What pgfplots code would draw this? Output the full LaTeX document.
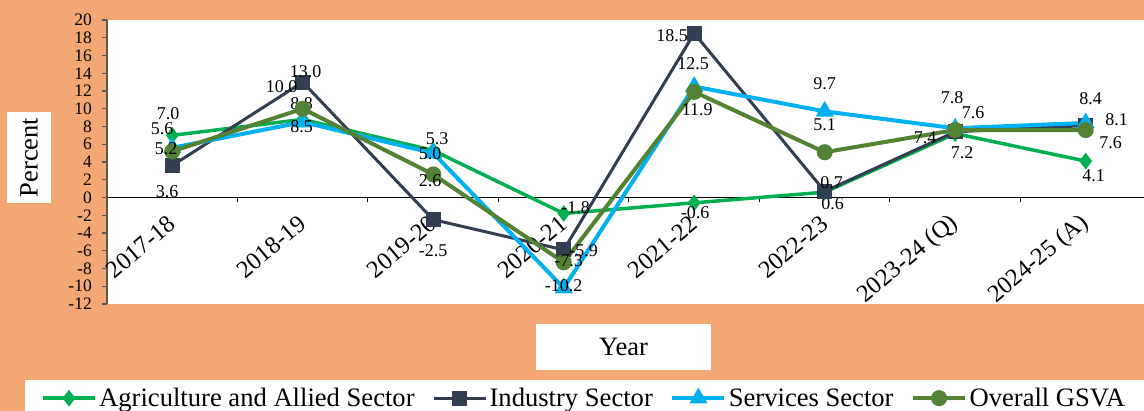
\documentclass[border=0pt]{standalone}
\usepackage{fontspec}
\setmainfont{Liberation Serif}
\usepackage{pgfplots}
\usepackage{pgfplotstable}
\pgfplotsset{compat=1.18}
\definecolor{bgor}{RGB}{242,167,116}
\definecolor{agri}{RGB}{0,176,80}
\definecolor{indus}{RGB}{51,63,80}
\definecolor{serv}{RGB}{0,176,240}
\definecolor{overall}{RGB}{84,130,53}
\definecolor{axgray}{RGB}{89,89,89}

\pgfplotstableread{
x y dx dy l
0 7.0 -4 22 7.0
1 8.8 -1 16 8.8
2 5.3 4 12 5.3
3 -1.8 12 6 -1.8
4 -0.6 1 -10 -0.6
5 0.6 8 -11 0.6
6 7.2 7 -19 7.2
7 4.1 8 -15 4.1
}\agri
\pgfplotstableread{
x y dx dy l
0 3.6 -5 -26 3.6
1 13.0 3 10 13.0
2 -2.5 0 -31 -2.5
3 -5.9 20 -1 -5.9
4 18.5 -22 -2 18.5
5 0.7 7 9 0.7
6 7.4 -30 -6 7.4
7 8.1 31 6 8.1
}\indus
\pgfplotstableread{
x y dx dy l
0 5.6 -10 19 5.6
1 8.5 -1 -5 8.5
2 5.0 -3 -1 5.0
3 -10.2 0 2 -10.2
4 12.5 -1 23 12.5
5 9.7 0 28 9.7
6 7.8 -3 31 7.8
7 8.4 5 24 8.4
}\serv
\pgfplotstableread{
x y dx dy l
0 5.2 -6 3 5.2
1 10.0 -21 22 10.0
2 2.6 -3 -6 2.6
3 -7.3 5 2 -7.3
4 11.9 3 -18 11.9
5 5.1 0 28 5.1
6 7.6 18 17 7.6
7 7.6 25 -13 7.6
}\overall

\begin{document}
\begin{tikzpicture}[x=1pt,y=1pt]
\useasboundingbox (0,0) rectangle (1144,411);
\clip (0,0) rectangle (1144,411);
\fill[bgor] (0,0) rectangle (1144,411);
\fill[white] (25,0) rectangle (1144,31);
\begin{axis}[
  at={(107pt,107pt)}, anchor=south west,
  scale only axis, width=1044pt, height=284pt,
  xmin=-0.5, xmax=7.5, ymin=-12, ymax=20,
  clip=false,
  axis x line*=middle, axis y line*=left,
  axis background/.style={fill=white},
  x axis line style={black, line width=1.2pt},
  y axis line style={axgray, line width=2pt},
  ytick={-12,-10,...,20},
  ytick style={axgray, line width=1.2pt},
  tick align=outside,
  major tick length=5pt,
  minor tick length=5pt,
  xtick={0,...,7},
  xticklabels={2017-18,2018-19,2019-20,2020-21,2021-22,2022-23,2023-24 (Q),2024-25 (A)},
  minor xtick={-0.5,0.5,...,7.5},
  every major x tick/.append style={draw=none},
  every minor x tick/.append style={black, line width=1pt},
  /pgf/number format/assume math mode=true,
  yticklabel style={font=\fontsize{17.5}{18}\selectfont, inner sep=1pt, xshift=-9pt},
  xticklabel style={font=\fontsize{24.5}{26}\selectfont, yshift=-18pt, anchor=east, rotate=40, inner sep=0pt},
  ylabel={Percent},
  ylabel style={at={(-0.0747,0.5158)}, anchor=center, rotate=0, fill=white, minimum width=91pt, minimum height=44pt, inner sep=0pt, font=\fontsize{26.5}{28}\selectfont},
  xlabel={Year},
  xlabel style={at={(0.4947,-0.1514)}, anchor=center, fill=white, minimum width=175pt, minimum height=46pt, inner sep=0pt, font=\fontsize{26.5}{28}\selectfont},
  legend columns=4,
  legend style={at={(-0.07854,-0.2817)}, anchor=north west, draw=none, fill=none,
    inner xsep=16pt, inner ysep=2pt,
    font=\fontsize{26.6}{28}\selectfont,
    nodes={inner xsep=2.5pt, inner ysep=2pt},
    /tikz/every even column/.append style={column sep=15pt}},
  legend image code/.code={\draw[mark repeat=2,mark phase=2,#1] plot coordinates {(0pt,0pt) (26pt,0pt) (52pt,0pt)};},
  point meta=explicit symbolic,
  nodes near coords,
  visualization depends on={\thisrow{dx} \as \lbldx},
  visualization depends on={\thisrow{dy} \as \lbldy},
  every node near coord/.style={anchor=center, text=black, inner sep=0pt, font=\fontsize{18}{18}\selectfont, xshift=\lbldx pt, yshift=\lbldy pt},
]
\addplot[agri, line width=3.5pt, mark=diamond*, mark size=5.5pt, mark options={solid}] table[x=x,y=y,meta=l] {\agri};
\addlegendentry{Agriculture and Allied Sector}
\addplot[indus, line width=3pt, mark=square*, mark size=6pt] table[x=x,y=y,meta=l] {\indus};
\addlegendentry{Industry Sector}
\addplot[serv, line width=4pt, mark=triangle*, mark size=6.5pt] table[x=x,y=y,meta=l] {\serv};
\addlegendentry{Services Sector}
\addplot[overall, line width=4pt, mark=*, mark size=6pt] table[x=x,y=y,meta=l] {\overall};
\addlegendentry{Overall GSVA}
\end{axis}
\end{tikzpicture}
\end{document}
